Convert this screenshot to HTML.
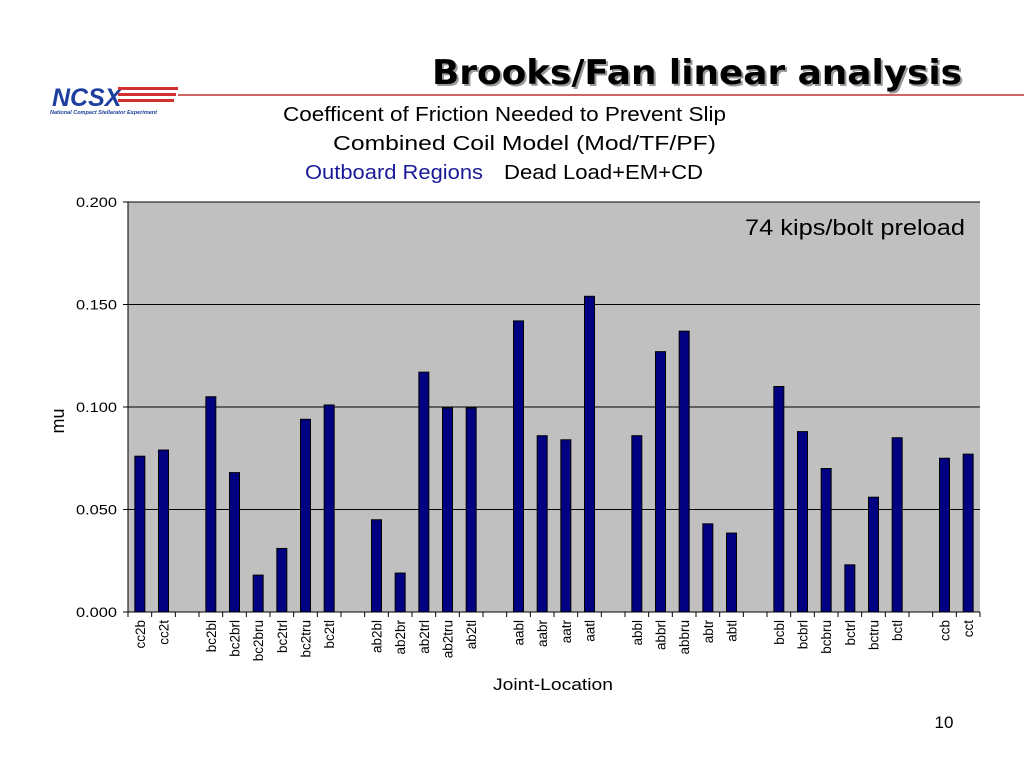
<!DOCTYPE html>
<html><head><meta charset="utf-8"><style>
body{margin:0;width:1024px;height:768px;background:#fff;overflow:hidden;font-family:"Liberation Sans",sans-serif}
</style></head><body>
<svg width="1024" height="768" xmlns="http://www.w3.org/2000/svg" font-family="Liberation Sans, sans-serif">
<g>
<text x="52" y="106" font-size="25" font-weight="bold" font-style="italic" fill="#1f3f9f">NCSX</text>
<rect x="118" y="87" width="60" height="3" fill="#d03030"/><rect x="118" y="93" width="58" height="3" fill="#d03030"/><rect x="118" y="99" width="56" height="3" fill="#d03030"/>
<text x="50" y="114" font-size="5.5" font-style="italic" font-weight="bold" fill="#1f3f9f">National Compact Stellarator Experiment</text>
</g>
<line x1="178" y1="95" x2="1024" y2="95" stroke="#c03030" stroke-width="1.5"/>
<text x="434" y="86" textLength="530" lengthAdjust="spacingAndGlyphs" font-family="DejaVu Sans, sans-serif" font-size="34" font-weight="bold" fill="#999">Brooks/Fan linear analysis</text>
<text x="432" y="84" textLength="530" lengthAdjust="spacingAndGlyphs" font-family="DejaVu Sans, sans-serif" font-size="34" font-weight="bold" fill="#000">Brooks/Fan linear analysis</text>
<text x="283" y="121" textLength="443" lengthAdjust="spacingAndGlyphs" font-size="20">Coefficent of Friction Needed to Prevent Slip</text>
<text x="333" y="150" textLength="383" lengthAdjust="spacingAndGlyphs" font-size="20">Combined Coil Model (Mod/TF/PF)</text>
<text x="305" y="179" textLength="178" lengthAdjust="spacingAndGlyphs" font-size="20" fill="#1a1a99">Outboard Regions</text>
<text x="504" y="179" textLength="199" lengthAdjust="spacingAndGlyphs" font-size="20">Dead Load+EM+CD</text>
<g id="chart"></g>
<text x="944" y="728" text-anchor="middle" font-size="17">10</text>
</svg>
<script>
const categories=["cc2b","cc2t","","bc2bl","bc2brl","bc2bru","bc2trl","bc2tru","bc2tl","","ab2bl","ab2br","ab2trl","ab2tru","ab2tl","","aabl","aabr","aatr","aatl","","abbl","abbrl","abbru","abtr","abtl","","bcbl","bcbrl","bcbru","bctrl","bctru","bctl","","ccb","cct"];
const values=[0.076,0.079,null,0.105,0.068,0.018,0.031,0.094,0.101,null,0.045,0.019,0.117,0.0995,0.0995,null,0.142,0.086,0.084,0.154,null,0.086,0.127,0.137,0.043,0.0385,null,0.110,0.088,0.070,0.023,0.056,0.085,null,0.075,0.077];
const yTicks=[0,0.05,0.1,0.15,0.2];
const yTickLabels=["0.000","0.050","0.100","0.150","0.200"];
const NS="http://www.w3.org/2000/svg";
const g=document.getElementById('chart');
const L=128,R=980,T=202,B=612;
const y=v=>B-(v/0.2)*(B-T);
const slot=(R-L)/categories.length;
const x=i=>L+slot*(i+0.5);
function mk(t,a,p){const e=document.createElementNS(NS,t);for(const k in a)e.setAttribute(k,a[k]);(p||g).appendChild(e);return e;}
let e=mk('rect',{x:L,y:T,width:R-L,height:B-T,fill:'#c0c0c0'});


yTicks.forEach((t,i)=>{
 if(t>0){let gl=mk('line',{x1:L,x2:R,y1:y(t),y2:y(t),stroke:'#000','stroke-width':1});
 
 }
 mk('line',{x1:L-5,x2:L,y1:y(t),y2:y(t),stroke:'#000'});
 let tl=mk('text',{x:L-11,y:y(t)+5,'text-anchor':'end','font-size':14,textLength:41,lengthAdjust:'spacingAndGlyphs'});
 tl.textContent=yTickLabels[i];
 
 
});
values.forEach((v,i)=>{
 if(v!==null){let b=mk('rect',{x:x(i)-5,y:y(v),width:10,height:B-y(v),fill:'#000080',stroke:'#000','stroke-width':1});
 
 }
 if(categories[i]){let t=mk('text',{transform:`translate(${x(i)+5},${B+8}) rotate(-90)`,'text-anchor':'end','font-size':13.5});
 t.textContent=categories[i];
 
 }
});
for(let i=0;i<=categories.length;i++)mk('line',{x1:L+slot*i,x2:L+slot*i,y1:B,y2:B+5,stroke:'#000'});
mk('line',{x1:L,x2:L,y1:T,y2:B,stroke:'#000'});
mk('line',{x1:L,x2:R,y1:B,y2:B,stroke:'#000'});
let at=mk('text',{x:745,y:235,'font-size':22,textLength:220,lengthAdjust:'spacingAndGlyphs'});
at.textContent='74 kips/bolt preload';


let yt=mk('text',{transform:'translate(64,421) rotate(-90)','text-anchor':'middle','font-size':18});
yt.textContent='mu';


let xt=mk('text',{x:493,y:690,'font-size':17,textLength:120,lengthAdjust:'spacingAndGlyphs'});
xt.textContent='Joint-Location';


</script>
</body></html>
